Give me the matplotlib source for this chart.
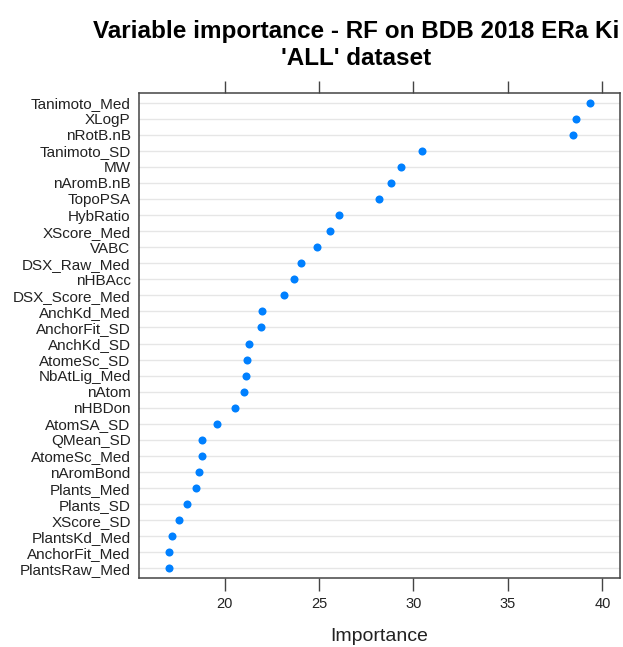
import numpy as np
import matplotlib
matplotlib.use("Agg")
import matplotlib.pyplot as plt

plt.rcParams['font.family'] = ['Liberation Sans', 'DejaVu Sans']

# variable importance, top to bottom as in the figure
variables = [
    "Tanimoto_Med", "XLogP", "nRotB.nB", "Tanimoto_SD", "MW", "nAromB.nB",
    "TopoPSA", "HybRatio", "XScore_Med", "VABC", "DSX_Raw_Med", "nHBAcc",
    "DSX_Score_Med", "AnchKd_Med", "AnchorFit_SD", "AnchKd_SD", "AtomeSc_SD",
    "NbAtLig_Med", "nAtom", "nHBDon", "AtomSA_SD", "QMean_SD", "AtomeSc_Med",
    "nAromBond", "Plants_Med", "Plants_SD", "XScore_SD", "PlantsKd_Med",
    "AnchorFit_Med", "PlantsRaw_Med",
]
importance = [
    39.37, 38.59, 38.44, 30.46, 29.33, 28.82,
    28.17, 26.04, 25.56, 24.88, 24.02, 23.68,
    23.12, 21.98, 21.94, 21.31, 21.18,
    21.14, 21.03, 20.53, 19.58, 18.82, 18.80,
    18.65, 18.48, 18.02, 17.56, 17.20,
    17.07, 17.03,
]
xticks = [20, 25, 30, 35, 40]

fig = plt.figure(figsize=(6.23, 6.47), dpi=100)
ax = fig.add_axes([139 / 623, 1 - 578 / 647, 481 / 623, 485 / 647])

n = len(variables)
ypos = np.arange(n, 0, -1)

# lattice-style grid lines for every row
for y in ypos:
    ax.axhline(y, color="#e6e6e6", lw=1, zorder=1)

ax.plot(importance, ypos, "o", color="#0080ff", markersize=5.8,
        markeredgewidth=0, zorder=3)

lo, hi = min(importance), max(importance)
pad = (hi - lo) * 0.07
ax.set_xlim(lo - pad, hi + pad)
ax.set_ylim(0.4, n + 0.6)

ax.set_yticks(ypos)
ax.set_yticklabels(variables, fontsize=11, color="#222222")
ax.tick_params(axis="y", length=0, pad=6)

ax.set_xticks(xticks)
ax.set_xticklabels([str(t) for t in xticks], fontsize=10.5, color="#222222")
ax.tick_params(axis="x", top=True, bottom=True, labeltop=False,
               direction="out", length=9, width=1, color="#444444", pad=5)

for sp in ax.spines.values():
    sp.set_color("#444444")
    sp.set_linewidth(1.1)

ax.set_xlabel("Importance", fontsize=14, color="#222222", labelpad=12)

fig.text(356 / 623, 1 - 45 / 647,
         "Variable importance - RF on BDB 2018 ERa Ki\n'ALL' dataset",
         ha="center", va="center", fontsize=17.5, fontweight="bold",
         linespacing=1.25)

fig.savefig("out.png", dpi=100)
